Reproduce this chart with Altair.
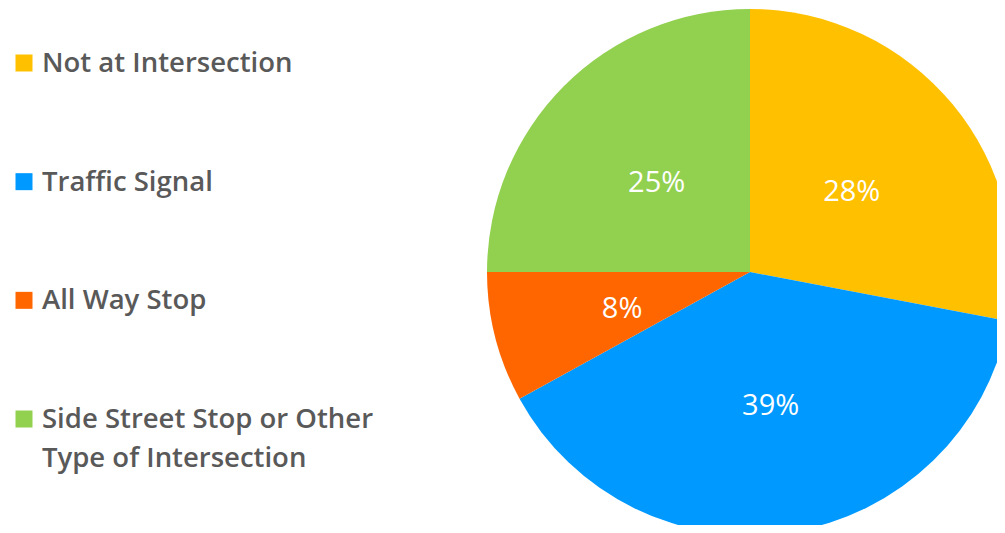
import altair as alt
import pandas as pd

categories = ["Not at Intersection", "Traffic Signal", "All Way Stop",
              "Side Street Stop or Other Type of Intersection"]
shares = [28, 39, 8, 25]
pct_labels = ["28%", "39%", "8%", "25%"]
legend_labels = ["Not at Intersection", "Traffic Signal", "All Way Stop",
                 "Side Street Stop or Other\nType of Intersection"]
colors = ["#FFC000", "#0099FF", "#FF6600", "#92D050"]
order_idx = [0, 1, 2, 3]

df = pd.DataFrame({
    "category": categories,
    "share": shares,
    "pct": pct_labels,
    "legend": legend_labels,
    "order": order_idx,
})

FONT = "Open Sans"
color = alt.Color("category:N", scale=alt.Scale(domain=categories, range=colors), legend=None)

base = alt.Chart(df)

pie = base.mark_arc(radius=263).encode(
    theta=alt.Theta("share:Q", stack=True),
    order=alt.Order("order:Q"),
    color=color,
    x=alt.value(742),
    y=alt.value(264),
)

pie_text = base.mark_text(radius=132, dy=4, fontSize=29, color="white", font=FONT).encode(
    theta=alt.Theta("share:Q", stack=True),
    order=alt.Order("order:Q"),
    text="pct:N",
    x=alt.value(742),
    y=alt.value(264),
)

ly = alt.Y("order:Q", scale=alt.Scale(domain=[0, 3], range=[55, 411]), axis=None)

leg_sq = base.mark_square(size=289, opacity=1).encode(
    x=alt.value(16),
    y=ly,
    color=color,
)

leg_txt = base.mark_text(
    align="left", baseline="alphabetic", dy=9, fontSize=27.5, fontWeight=600,
    color="#595959", font=FONT, lineBreak="\n", lineHeight=39,
).encode(
    x=alt.value(34),
    y=ly,
    text="legend:N",
)

chart = alt.layer(pie, pie_text, leg_sq, leg_txt).properties(
    width=989, height=517, autosize=alt.AutoSizeParams(type="none"), padding=0
).configure_view(stroke=None)

chart.save("out.html", embed_options={"renderer": "svg", "actions": False})
